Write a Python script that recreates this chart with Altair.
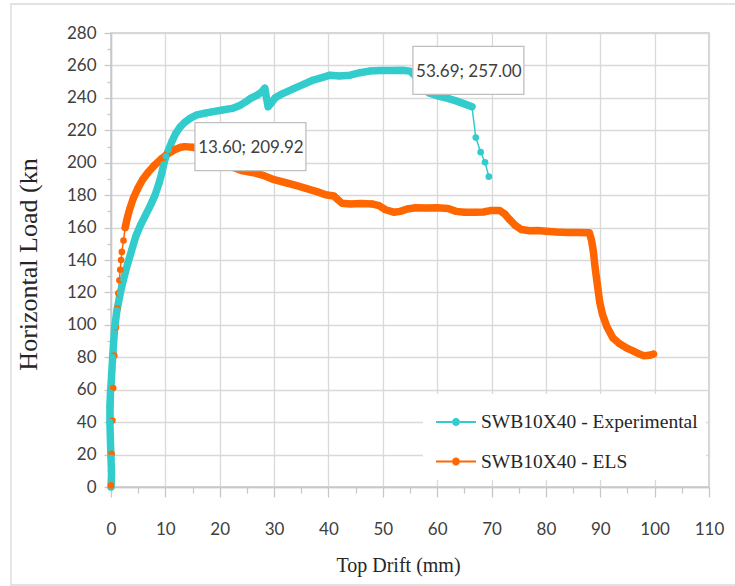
import altair as alt
import pandas as pd

EXP = "SWB10X40 - Experimental"
ELS = "SWB10X40 - ELS"

# Experimental push-over curve: top drift (mm) and horizontal load (kN)
exp_drift = [0.0, 0.1, 0.0, -0.1, -0.2, -0.2, -0.1, 0.1, 0.3, 0.5, 0.7, 1.1, 1.7, 2.3, 3.0,
             3.8, 4.6, 5.5, 6.4, 7.3, 8.1, 8.8, 9.3, 9.7, 10.1, 10.6, 11.2, 11.9, 12.7, 13.6,
             14.6, 15.8, 17.2, 18.8, 20.5, 22.3, 23.8, 25.0, 25.6, 26.8, 27.7, 28.3, 28.6, 28.9,
             29.4, 30.2, 31.5, 33.5, 35.5, 37.2, 38.8, 40.3, 42.0, 44.0, 45.8, 47.5, 49.5, 51.5,
             53.69, 55.0, 56.5, 57.5, 58.5, 60.0, 61.8, 63.6, 65.0, 66.4, 67.1, 68.0, 68.8, 69.5]
exp_load = [0, 8, 18, 28, 40, 50, 58, 68, 80, 90, 99, 109, 119.5, 128, 137,
            146, 155, 162, 168, 174, 180, 187, 193, 199, 204, 208, 213, 218, 222, 225,
            227.5, 229.5, 230.5, 231.5, 232.5, 233.5, 235.5, 238, 239.5, 241.5, 243.5, 246, 240, 234.5,
            236.5, 240, 242.5, 245.5, 248.5, 251, 252.5, 254, 253.5, 254, 255.5, 256.5, 256.8, 256.8,
            257.0, 256.5, 252, 247, 243, 241.3, 239.8, 238, 236.3, 234.5, 215.5, 206.5, 200.3, 191.4]

# Equivalent-linearisation (ELS) curve
els_drift = [0.0, 0.1, 0.25, 0.4, 0.6, 0.9, 1.15, 1.35, 1.55, 1.7, 1.85, 2.0, 2.3, 2.6, 3.0,
             3.5, 4.1, 4.9, 5.8, 6.8, 8.0, 9.3, 10.6, 11.8, 12.8, 13.60, 15.0, 17.0, 19.0, 21.0,
             22.5, 24.0, 26.0, 28.0, 30.0, 32.0, 34.0, 36.0, 38.0, 39.5, 41.0, 41.8, 42.5, 44.0,
             46.0, 48.0, 49.3, 50.5, 52.0, 53.2, 54.5, 56.0, 58.0, 60.0, 62.0, 63.5, 65.0, 67.0,
             68.5, 70.0, 71.5, 72.4, 73.3, 74.3, 75.5, 77.0, 78.5, 80.0, 82.0, 84.0, 86.0, 88.0,
             88.4, 88.7, 89.1, 89.5, 89.9, 90.4, 91.2, 92.3, 93.5, 94.8, 96.1, 97.2, 98.0, 99.0, 99.8]
els_load = [1, 20.5, 41, 61, 81, 98.5, 110, 119.5, 127.5, 134, 140, 145, 152, 160, 166,
            172, 178, 184, 189.5, 194, 198.5, 202.5, 205.8, 208.2, 209.5, 209.92, 209.6, 207.5, 204, 200,
            197, 195.2, 194, 192.2, 189.5, 187.8, 186, 184, 182, 180.2, 179.5, 177, 175, 174.6,
            174.8, 174.6, 173.5, 171, 169.5, 170, 171.5, 172.2, 172, 172.2, 171.8, 170, 169.5, 169.5,
            169.6, 170.6, 170.5, 168.5, 165, 161.5, 158.8, 158, 158.2, 157.8, 157.3, 157, 157, 156.8,
            152, 146, 134, 124, 114, 106.5, 99, 92, 88.5, 85.8, 83.8, 82, 81, 81.2, 82]

# Peak values marked on the curves
peak_drift = [53.69, 13.60]
peak_load = [257.00, 209.92]
peak_text = ["53.69; 257.00", "13.60; 209.92"]

x_ticks = [v * 5 for v in range(0, 23)]      # labelled every 10 mm
y_ticks = [v * 10 for v in range(0, 29)]     # labelled every 20 kN

series_names = [EXP, ELS]
series_colors = ["#33CCCC", "#FF6600"]

rows = []
for name, xs, ys in [(EXP, exp_drift, exp_load), (ELS, els_drift, els_load)]:
    for i, (xv, yv) in enumerate(zip(xs, ys)):
        rows.append({"series": name, "drift": xv, "load": yv, "i": i})
curves = pd.DataFrame(rows)
peaks = pd.DataFrame({"drift": peak_drift, "load": peak_load, "text": peak_text})

SANS = "Lato"
SERIF = "Liberation Serif"
GRID = "#d9d9d9"
AXIS_LINE = "#c8c8c8"

minor = "datum.value % 10 !== 0"
minor_y = "datum.value % 20 !== 0"

x_enc = alt.X(
    "drift:Q",
    scale=alt.Scale(domain=[0, 110], nice=False, zero=False),
    axis=alt.Axis(
        values=x_ticks,
        tickCount=200,
        format="d",
        labelExpr="datum.value % 10 === 0 ? datum.label : ''",
        grid=True,
        gridColor=GRID,
        gridWidth=1.3,
        gridOpacity={"condition": {"test": minor, "value": 0}, "value": 1},
        domainColor=AXIS_LINE,
        domainWidth=1.5,
        tickColor=AXIS_LINE,
        tickWidth=1.3,
        tickSize={"condition": {"test": minor, "value": 6}, "value": 10},
        labelFont=SANS,
        labelFontSize=17,
        labelColor="#404040",
        labelPadding=24,
        labelFlush=False,
        labelOverlap=False,
        title="Top Drift (mm)",
        titleFont=SERIF,
        titleFontSize=20,
        titleFontWeight="normal",
        titleColor="#262626",
        titleX=287,
        titleY=78,
        titleAlign="center",
        titleBaseline="middle",
    ),
)

y_enc = alt.Y(
    "load:Q",
    scale=alt.Scale(domain=[0, 280], nice=False),
    axis=alt.Axis(
        values=y_ticks,
        tickCount=200,
        format="d",
        labelExpr="datum.value % 20 === 0 ? datum.label : ''",
        grid=True,
        gridColor=GRID,
        gridWidth=1.3,
        gridOpacity={"condition": {"test": minor_y, "value": 0}, "value": 1},
        domainColor=AXIS_LINE,
        domainWidth=1.5,
        tickColor=AXIS_LINE,
        tickWidth=1.3,
        tickSize={"condition": {"test": minor_y, "value": 4}, "value": 7},
        labelFont=SANS,
        labelFontSize=17,
        labelColor="#404040",
        labelPadding=8,
        labelFlush=False,
        labelOverlap=False,
        title="Horizontal Load (kn",
        titleFont=SERIF,
        titleFontSize=26,
        titleFontWeight="normal",
        titleColor="#262626",
        titleX=-83,
        titleY=231,
        titleAngle=270,
        titleAlign="center",
        titleBaseline="middle",
    ),
)

# line with a marker in the middle, used as the legend symbol
legend_symbol = ("M-1,-0.05L-0.2,-0.05L-0.2,0.05L-1,0.05Z "
                 "M0.2,-0.05L1,-0.05L1,0.05L0.2,0.05Z "
                 "M-0.2,0A0.2,0.2 0 1,0 0.2,0A0.2,0.2 0 1,0 -0.2,0Z")

series_legend = alt.Legend(
    title=None,
    orient="none",
    legendX=312,
    legendY=361,
    fillColor="white",
    padding=8,
    symbolOffset=5,
    rowPadding=9.6,
    symbolType=legend_symbol,
    symbolSize=1600,
    symbolStrokeWidth=0,
    symbolOpacity=1,
    labelFont=SERIF,
    labelFontSize=19.5,
    labelColor="#262626",
    labelOffset=5,
    labelLimit=400,
)

color_enc = alt.Color("series:N", scale=alt.Scale(domain=series_names, range=series_colors),
                      sort=series_names, legend=series_legend)

base = alt.Chart(curves)

thin = base.mark_line(strokeWidth=1.5).encode(
    x=x_enc, y=y_enc, color=color_enc, order="i:Q", detail="series:N",
)

# densely sampled stretches read as a solid band of markers
band = base.transform_filter(
    f"(datum.series == '{EXP}' && datum.drift <= 66.5) || "
    f"(datum.series == '{ELS}' && datum.drift >= 2.5)"
).mark_line(strokeWidth=7.5, strokeCap="round", strokeJoin="round").encode(
    x="drift:Q", y="load:Q", color=color_enc, order="i:Q", detail="series:N",
)

dots = base.mark_circle(size=44, opacity=1).encode(
    x="drift:Q", y="load:Q", color=color_enc, order="i:Q",
)

callout_box = alt.Chart(peaks).mark_rect(
    fill="white", stroke="#bfbfbf", strokeWidth=1.3,
    xOffset=10, x2Offset=121, yOffset=-24, y2Offset=24,
).encode(x="drift:Q", x2="drift:Q", y="load:Q", y2="load:Q")

callout_text = alt.Chart(peaks).mark_text(
    dx=66, dy=1.5, align="center", baseline="middle",
    font=SANS, fontSize=17, color="#404040",
).encode(x="drift:Q", y="load:Q", text="text:N")

frame = alt.Chart(alt.Data(values=[{}])).mark_rect(
    fill="transparent", stroke="#d9d9d9", strokeWidth=1.3,
).encode(x=alt.value(-100), x2=alt.value(626), y=alt.value(-29), y2=alt.value(552))

chart = alt.layer(frame, thin, band, dots, callout_box, callout_text).properties(
    width=598,
    height=454,
    background="white",
    padding={"left": 111, "top": 33, "right": 26, "bottom": 99},
    autosize=alt.AutoSizeParams(type="none"),
).configure_view(
    stroke=AXIS_LINE, strokeWidth=1.5,
)

chart.save("out.html", embed_options={"renderer": "svg", "actions": False})
